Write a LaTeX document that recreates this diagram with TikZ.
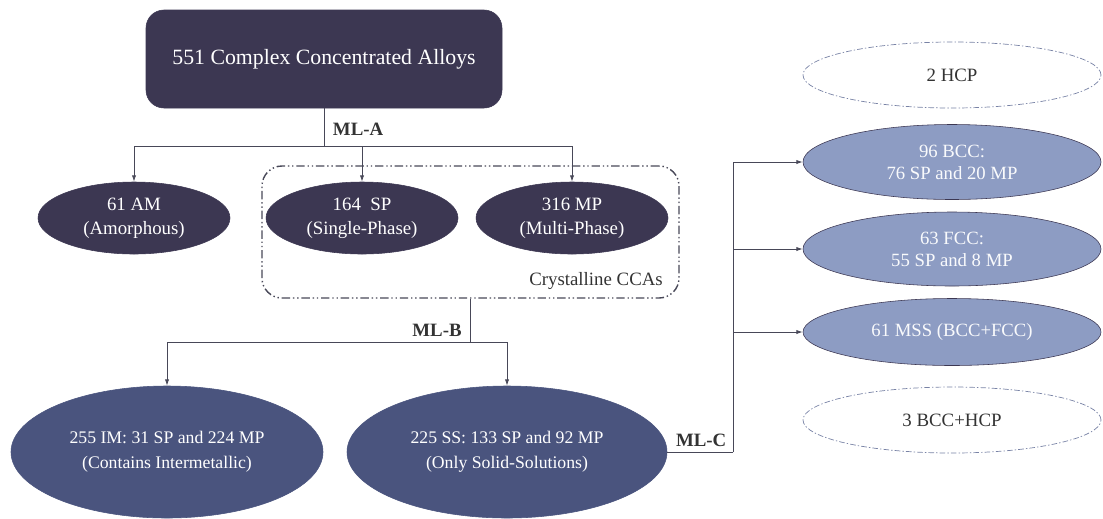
\documentclass[tikz,border=0pt]{standalone}
\usepackage{fontspec}
\setmainfont{Liberation Serif}
\definecolor{cca_dark}{RGB}{60, 55, 82}
\definecolor{cca_navy}{RGB}{74, 84, 126}
\definecolor{cca_light}{RGB}{141, 156, 195}
\definecolor{cca_line}{RGB}{72, 72, 88}
\definecolor{cca_dash}{RGB}{120, 130, 165}
\usetikzlibrary{arrows.meta, shapes.geometric, calc}

\begin{document}
\begin{tikzpicture}[font=\fontsize{13.4}{17}\selectfont,
    blob/.style={ellipse, draw=cca_dark, fill=cca_dark, text=white,
                 align=center, inner sep=0pt},
    phase/.style={ellipse, draw=cca_dark, fill=cca_light, text=white!95!cca_light,
                  align=center, inner sep=0pt, minimum width=7.45cm,
                  font=\fontsize{13.3}{15.6}\selectfont},
    ghost/.style={ellipse, draw=cca_dash, line width=0.5pt, text=black!80,
                  dash pattern=on 4pt off 1.5pt on 1pt off 1.5pt,
                  inner sep=0pt, minimum width=7.45cm, minimum height=1.65cm},
    arr/.style={-{Latex[length=4.5pt,width=3pt]}, draw=cca_line, line width=0.6pt},
    wire/.style={draw=cca_line, line width=0.6pt},
    mllabel/.style={font=\fontsize{13.4}{17}\selectfont\bfseries, text=black!80}]
  \useasboundingbox (0,0) rectangle (27.575,-12.95);

  % root
  \node[draw=cca_dark, fill=cca_dark, text=white, rounded corners=0.45cm,
        minimum width=8.9cm, minimum height=2.45cm,
        font=\fontsize{15.5}{18}\selectfont] (alloys) at (8.1,-1.475)
        {551 Complex Concentrated Alloys};

  % ML-A
  \node[blob, minimum width=4.8cm, minimum height=1.8cm] (am) at (3.35,-5.45)
        {61 AM\\(Amorphous)};
  \node[blob, minimum width=4.8cm, minimum height=1.8cm] (sp) at (9.05,-5.45)
        {164\ \ SP\\(Single-Phase)};
  \node[blob, minimum width=4.8cm, minimum height=1.8cm] (mp) at (14.3,-5.45)
        {316 MP\\(Multi-Phase)};
  \coordinate (hubA) at (8.1,-3.65);
  \draw[wire] (alloys) -- (hubA);
  \draw[arr] (hubA) -| (am.north);
  \draw[arr] (hubA) -| (sp.north);
  \draw[arr] (hubA) -| (mp.north);
  \node[mllabel, anchor=west] (mla) at (8.2,-3.22) {ML-A};

  % crystalline group
  \node[draw=cca_line, line width=1pt, rounded corners=0.5cm,
        dash pattern=on 6pt off 2pt on 1pt off 2pt on 1pt off 2pt,
        minimum width=10.425cm, minimum height=3.3cm] (cryst) at (11.7625,-5.8) {};
  \node[anchor=south east, text=black!80] (crystlabel) at ($(cryst.south east)+(-0.3,0.1)$)
        {Crystalline CCAs};

  % ML-B
  \node[blob, fill=cca_navy, draw=cca_navy, minimum width=7.8cm, minimum height=3.3cm,
        font=\fontsize{12.6}{17.5}\selectfont] (im) at (4.175,-11.3)
        {255 IM: 31 SP and 224 MP\\(Contains Intermetallic)};
  \node[blob, fill=cca_navy, draw=cca_navy, minimum width=8cm, minimum height=3.3cm,
        font=\fontsize{12.6}{17.5}\selectfont] (ss) at (12.675,-11.3)
        {225 SS: 133 SP and 92 MP\\(Only Solid-Solutions)};
  \coordinate (hubB) at (11.75,-8.55);
  \draw[wire] (cryst.south -| hubB) -- (hubB);
  \draw[arr] (hubB) -| (im.north);
  \draw[arr] (hubB) -| (ss.north);
  \node[mllabel] (mlb) at (10.925,-8.25) {ML-B};

  % ML-C
  \node[ghost] (hcp) at (23.8,-1.875) {2 HCP};
  \node[phase, minimum height=1.875cm] (bcc) at (23.8,-4.05) {96 BCC:\\76 SP and 20 MP};
  \node[phase, minimum height=1.85cm] (fcc) at (23.8,-6.225) {63 FCC:\\55 SP and 8 MP};
  \node[phase, minimum height=1.675cm] (mss) at (23.8,-8.3) {61 MSS (BCC+FCC)};
  \node[ghost] (bcchcp) at (23.8,-10.5) {3 BCC+HCP};
  \coordinate (hubC) at (18.325,-11.3);
  \draw[wire] (ss.east) -- (hubC);
  \draw[arr] (hubC) |- (bcc.west);
  \draw[arr] (hubC) |- (fcc.west);
  \draw[arr] (hubC) |- (mss.west);
  \node[mllabel] (mlc) at (17.53,-11.0) {ML-C};
\end{tikzpicture}
\end{document}
